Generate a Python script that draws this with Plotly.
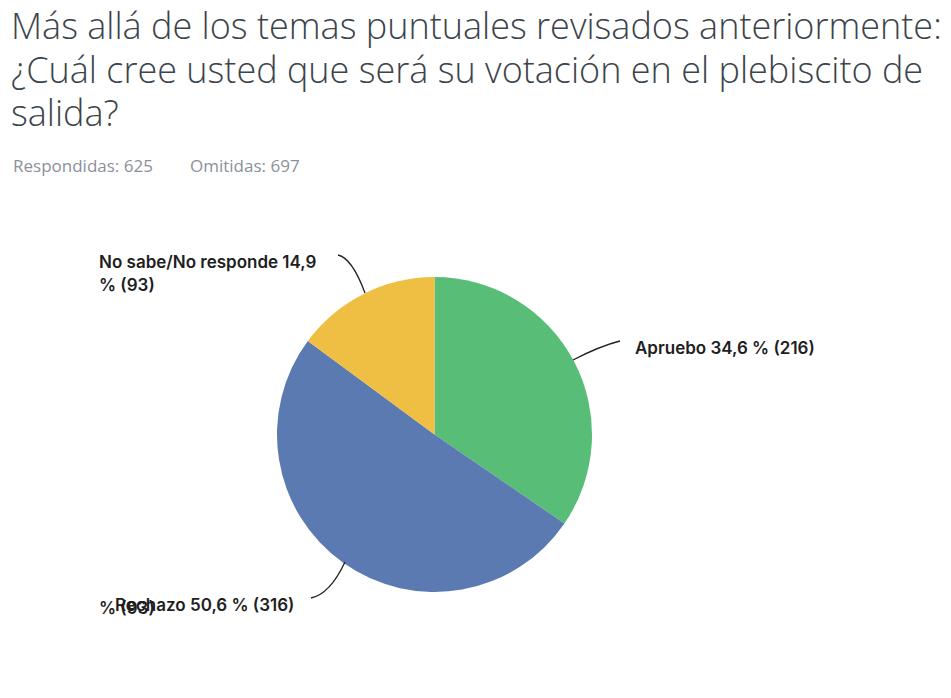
import plotly.graph_objects as go

W, H = 951, 698
OFF = 8  # page body margin shifts the figure by 8 px

labels = ["Apruebo", "Rechazo", "No sabe/No responde"]
counts = [216, 316, 93]
pcts = ["34,6", "50,6", "14,9"]
colors = ["#58BD77", "#5B7AB2", "#EFBF43"]

title_lines = ["Más allá de los temas puntuales revisados anteriormente:",
               "¿Cuál cree usted que será su votación en el plebiscito de",
               "salida?"]
answered, skipped = 625, 697


def px(x):
    return (x - OFF) / W


def py(y):
    return 1 - (y - OFF) / H


fig = go.Figure(go.Pie(
    labels=labels, values=counts,
    marker=dict(colors=colors, line=dict(width=0)),
    sort=False, direction="clockwise", rotation=0,
    textinfo="none", hoverinfo="skip", showlegend=False,
    domain=dict(x=[px(277), px(592)], y=[py(592), py(277)]),
))

TITLE_FONT = dict(family="Open Sans", size=36, color="#3B434B", weight=300)
for i, line in enumerate(title_lines):
    fig.add_annotation(x=px(9), y=py(26 + i * 43), xref="paper", yref="paper",
                       xanchor="left", yanchor="middle", showarrow=False,
                       text=line, font=TITLE_FONT)

SUB = dict(family="Open Sans", size=17, color="#8A9099")
fig.add_annotation(x=px(11), y=py(165), xref="paper", yref="paper",
                   xanchor="left", yanchor="middle", showarrow=False,
                   text=f"Respondidas: {answered}", font=SUB)
fig.add_annotation(x=px(188), y=py(165), xref="paper", yref="paper",
                   xanchor="left", yanchor="middle", showarrow=False,
                   text=f"Omitidas: {skipped}", font=SUB)

LBL = dict(family="Inter", size=17, color="#1E1E1E", weight=600)


def label(x, y, text):
    fig.add_annotation(x=px(x), y=py(y), xref="paper", yref="paper",
                       xanchor="left", yanchor="middle", showarrow=False,
                       text=text, font=LBL, align="left")


label(97, 262, f"{labels[2]} {pcts[2]}")
label(97, 285, f"% ({counts[2]})")
label(633, 348, f"{labels[0]} {pcts[0]} % ({counts[0]})")
label(113, 605, f"{labels[1]} {pcts[1]} % ({counts[1]})")
label(97, 608, f"% ({counts[2]})")  # overlapped label, as in the source

# leader lines
leaders = [((573, 360), (600, 346), (620, 341)),
           ((338, 255), (352, 258), (365, 293)),
           ((345, 562), (330, 594), (311, 598))]
for (x0, y0), (cx, cy), (x1, y1) in leaders:
    fig.add_shape(type="path", xref="paper", yref="paper",
                  path=f"M {px(x0)} {py(y0)} Q {px(cx)} {py(cy)} {px(x1)} {py(y1)}",
                  line=dict(color="#222222", width=1.3))

fig.update_layout(width=W, height=H, margin=dict(l=0, r=0, t=0, b=0),
                  paper_bgcolor="white", plot_bgcolor="white")

fig.write_html("out.html")
